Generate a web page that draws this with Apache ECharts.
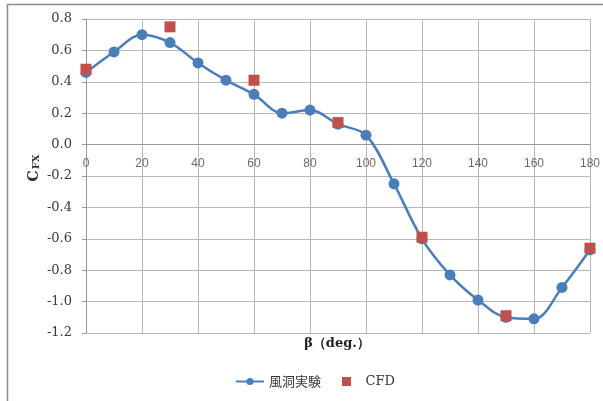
<!DOCTYPE html>
<html>
<head>
<meta charset="utf-8">
<style>
  html, body { margin: 0; padding: 0; background: #fff; }
  #chart { width: 603px; height: 401px; }
</style>
<script src="https://cdn.jsdelivr.net/npm/echarts@6/dist/echarts.min.js"></script>
</head>
<body>
<div id="chart"></div>
<script>
// Yaw angle (deg.) and side-force coefficient C_FX
const angles = [0, 10, 20, 30, 40, 50, 60, 70, 80, 90, 100, 110, 120, 130, 140, 150, 160, 170, 180];
const windTunnel = [0.46, 0.59, 0.70, 0.65, 0.52, 0.41, 0.32, 0.20, 0.22, 0.13, 0.06, -0.25, -0.60, -0.83, -0.99, -1.10, -1.11, -0.91, -0.67];
const cfdAngles = [0, 30, 60, 90, 120, 150, 180];
const cfdValues = [0.48, 0.75, 0.41, 0.14, -0.59, -1.09, -0.66];

const seriesNames = ['風洞実験', 'CFD'];
const xTitle = 'β（deg.）';

const blue = '#4A7EBB';
const red = '#C0504D';
const gridColor = '#b8b8b8';
const serif = '"DejaVu Serif", "Liberation Serif", serif';

const chart = echarts.init(document.getElementById('chart'), null, { renderer: 'canvas' });

chart.setOption({
  animation: false,
  backgroundColor: '#fff',
  grid: { left: 86, right: 10, top: 19, bottom: 68, containLabel: false },
  xAxis: {
    type: 'value',
    min: 0,
    max: 180,
    interval: 20,
    axisLine: { show: true, onZero: false, lineStyle: { color: '#9a9a9a', width: 1 } },
    axisTick: { show: false },
    axisLabel: {
      color: '#6a6a6a',
      fontFamily: '"Liberation Sans", Arial, sans-serif',
      fontSize: 12,
      margin: 13
    },
    splitLine: { show: true, lineStyle: { color: gridColor, width: 1 } }
  },
  yAxis: {
    type: 'value',
    min: -1.2,
    max: 0.8,
    interval: 0.2,
    axisLine: { show: true, onZero: false, lineStyle: { color: '#9a9a9a', width: 1 } },
    axisTick: { show: true, length: 4, lineStyle: { color: '#9a9a9a' } },
    axisLabel: {
      color: '#3a3a3a',
      fontFamily: serif,
      fontSize: 13,
      margin: 14,
      formatter: v => v.toFixed(1)
    },
    splitLine: { show: true, lineStyle: { color: gridColor, width: 1 } }
  },
  legend: {
    data: [
      { name: seriesNames[0] },
      {
        name: seriesNames[1],
        icon: 'path://M0,0L10,0L10,10L0,10Z',
        textStyle: { fontFamily: serif, fontSize: 13, color: '#333' }
      }
    ],
    left: 235,
    top: 375,
    padding: 0,
    itemWidth: 28,
    itemHeight: 9,
    itemGap: 21,
    textStyle: { fontSize: 13, color: '#333', fontFamily: '"Noto Sans CJK JP", "DejaVu Serif", serif' }
  },
  graphic: [
    {
      type: 'rect',
      silent: true,
      shape: { x: 7.5, y: 4.5, width: 700, height: 500 },
      style: { fill: 'none', stroke: '#8c8c8c', lineWidth: 1.5 },
      z: 0
    },
    {
      // x-axis title
      type: 'text',
      silent: true,
      x: 337,
      y: 344,
      style: {
        text: xTitle,
        fill: '#222',
        font: 'bold 13px ' + serif,
        align: 'center',
        verticalAlign: 'middle'
      }
    },
    {
      // y-axis title: C with subscript FX
      type: 'text',
      silent: true,
      x: 34,
      y: 168,
      rotation: Math.PI / 2,
      style: {
        text: '{c|C}{s|FX}',
        align: 'center',
        verticalAlign: 'middle',
        rich: {
          c: { font: 'bold 14px ' + serif, fill: '#333' },
          s: { font: 'bold 10px ' + serif, fill: '#333', padding: [5, 0, 0, 1] }
        }
      }
    }
  ],
  series: [
    {
      name: seriesNames[0],
      type: 'line',
      smooth: 0.35,
      data: angles.map((a, i) => [a, windTunnel[i]]),
      symbol: 'circle',
      symbolSize: 11,
      itemStyle: { color: blue },
      lineStyle: { color: blue, width: 2.5 },
      z: 2
    },
    {
      name: seriesNames[1],
      type: 'scatter',
      data: cfdAngles.map((a, i) => [a, cfdValues[i]]),
      symbol: 'rect',
      symbolSize: 11,
      symbolKeepAspect: true,
      itemStyle: { color: red, opacity: 1 },
      z: 3
    }
  ]
});

// The x axis crosses the y axis at 0: shift it up from the grid bottom to the y = 0 line.
const zeroY = chart.convertToPixel({ yAxisIndex: 0 }, 0);
const bottomY = chart.convertToPixel({ yAxisIndex: 0 }, -1.2);
chart.setOption({ xAxis: { offset: zeroY - bottomY } });
</script>
</body>
</html>
